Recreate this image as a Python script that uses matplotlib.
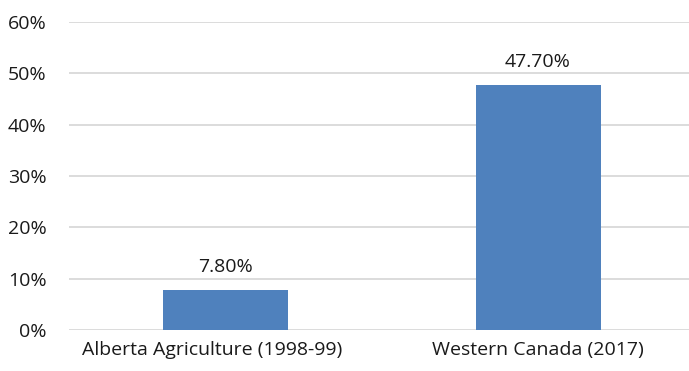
import matplotlib.pyplot as plt
import matplotlib.transforms as mtransforms
from matplotlib.ticker import PercentFormatter

categories = ["Alberta Agriculture (1998-99)", "Western Canada (2017)"]
values = [7.8, 47.7]
labels = ["7.80%", "47.70%"]

plt.rcParams['font.family'] = ['Open Sans', 'DejaVu Sans']

fig = plt.figure(figsize=(6.89, 3.71), dpi=100)
ax = fig.add_axes([69.25 / 689, 41 / 371, (689 - 69.25) / 689, 308 / 371])

x = list(range(len(categories)))
bars = ax.bar(x, values, width=0.4, color="#4f81bd", zorder=3)

for b, lab in zip(bars, labels):
    ax.annotate(lab, (b.get_x() + b.get_width() / 2, b.get_height()),
                xytext=(0, 10), textcoords="offset points",
                ha="center", va="bottom", fontsize=14, color="#1a1a1a")

ax.set_xlim(-0.5, -0.5 + (689 - 69.25) / 312.5)
ax.set_ylim(0, 60)
ax.set_yticks(range(0, 61, 10))
ax.yaxis.set_major_formatter(PercentFormatter(decimals=0))
ax.set_xticks(x)
ax.set_xticklabels(categories)

ax.grid(axis="y", color="#d9d9d9", linewidth=1.3, zorder=0)
for s in ax.spines.values():
    s.set_visible(False)
ax.tick_params(length=0, labelsize=14, colors="#1a1a1a")
ax.tick_params(axis="y", pad=16.5)
ax.tick_params(axis="x", pad=8)

# the first category label sits a little left of its bar in the original
lbl = ax.get_xticklabels()[0]
lbl.set_transform(lbl.get_transform() + mtransforms.ScaledTranslation(-0.13, 0, fig.dpi_scale_trans))

fig.savefig("out.png", dpi=100)
